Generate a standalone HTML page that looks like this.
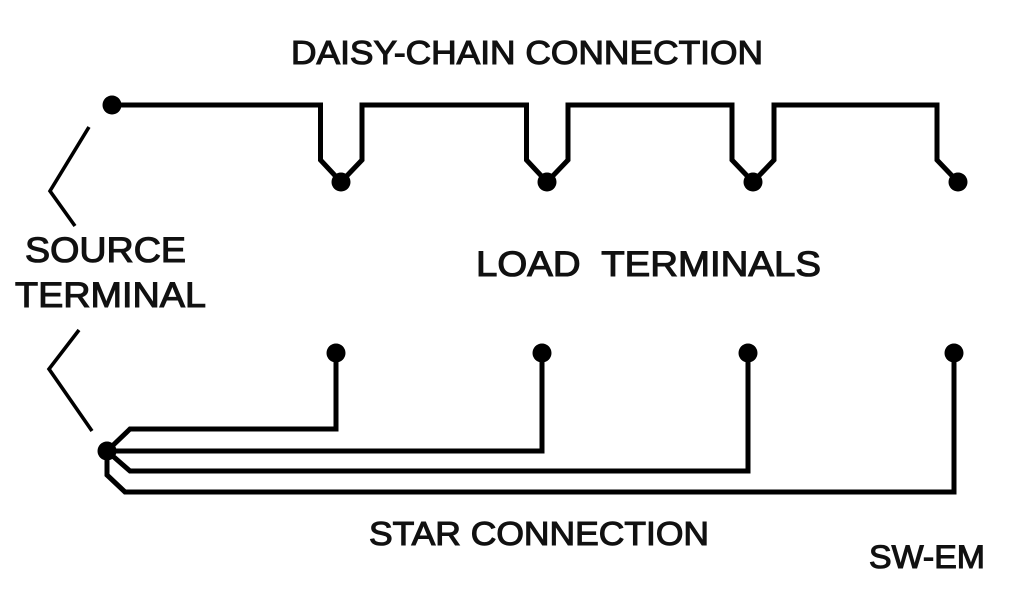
<!DOCTYPE html>
<html><head><meta charset="utf-8"><style>
html,body{margin:0;padding:0;background:#fff;width:1024px;height:600px;overflow:hidden}
svg{display:block}
text{font-family:"Liberation Sans",sans-serif;fill:#111;stroke:#111;stroke-width:1.1px}
</style></head><body>
<svg width="1024" height="600" viewBox="0 0 1024 600" xmlns="http://www.w3.org/2000/svg">
<rect width="1024" height="600" fill="#fff"/>
<g fill="none" stroke="#000" stroke-width="5" stroke-linejoin="miter">
<path d="M112 105H320.500V160L341 182L362 160V105H526.500V160L547 182L568 160V105H732V160L753 182L774 160V105H937V160L958 182"/>
<path d="M107 451L130 429H336V353"/>
<path d="M107 451H542V353"/>
<path d="M107 451L130 471H748V353"/>
<path d="M107 451V475L125 492H954V353"/>
</g>
<g fill="none" stroke="#000" stroke-width="3.6">
<path d="M89 127L50 191L75 226"/>
<path d="M79 330L49 369L92 431"/>
</g>
<g fill="#000">
<circle cx="112" cy="105" r="9.500"/>
<circle cx="341" cy="182" r="9.500"/>
<circle cx="547" cy="182" r="9.500"/>
<circle cx="753" cy="182" r="9.500"/>
<circle cx="958" cy="182" r="9.500"/>
<circle cx="336" cy="353" r="9.500"/>
<circle cx="542" cy="353" r="9.500"/>
<circle cx="748" cy="353" r="9.500"/>
<circle cx="954" cy="353" r="9.500"/>
<circle cx="107" cy="451" r="9.500"/>
</g>
<text x="291" y="64" font-size="33" textLength="472" lengthAdjust="spacingAndGlyphs">DAISY-CHAIN CONNECTION</text>
<text x="25" y="262" font-size="35" textLength="161" lengthAdjust="spacingAndGlyphs">SOURCE</text>
<text x="15" y="307" font-size="35" textLength="191" lengthAdjust="spacingAndGlyphs">TERMINAL</text>
<text x="476" y="276" font-size="35" textLength="345" lengthAdjust="spacingAndGlyphs" xml:space="preserve">LOAD  TERMINALS</text>
<text x="369" y="545" font-size="33" textLength="340" lengthAdjust="spacingAndGlyphs">STAR CONNECTION</text>
<text x="869" y="568" font-size="32" textLength="116" lengthAdjust="spacingAndGlyphs">SW-EM</text>
</svg>
</body></html>
